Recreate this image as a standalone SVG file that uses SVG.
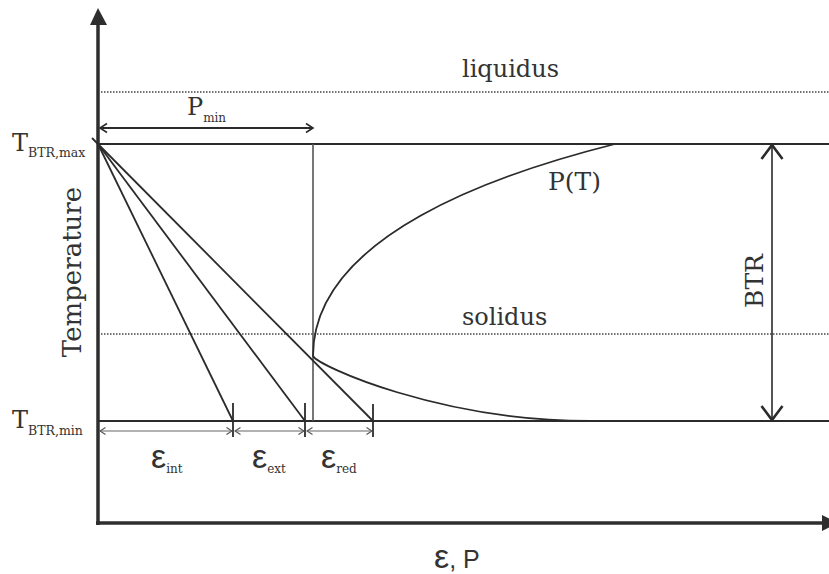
<svg xmlns="http://www.w3.org/2000/svg" width="829" height="574" viewBox="0 0 829 574">
<style>
.serif{font-family:"DejaVu Serif","Liberation Serif",serif;fill:#333}
.sans{font-family:"Liberation Sans",Arial,sans-serif;fill:#333}
.ln{stroke:#2b2b2b;stroke-width:1.8;fill:none}
.dot{stroke:#444;stroke-width:1.5;stroke-dasharray:1.5 1.5;fill:none}
.dim{stroke:#666;stroke-width:1.2;fill:none}
.axis{stroke:#2e2e2e;stroke-width:3.5;fill:none}
</style>
<defs>
<marker id="dimArr" markerUnits="userSpaceOnUse" markerWidth="10" markerHeight="10" refX="9" refY="5" orient="auto-start-reverse">
<path d="M3.5,1.5 L9,5 L3.5,8.5" fill="none" stroke="#555" stroke-width="1.2"/>
</marker>
<marker id="pArr" markerUnits="userSpaceOnUse" markerWidth="12" markerHeight="12" refX="10" refY="6" orient="auto-start-reverse">
<path d="M3,1.5 L10,6 L3,10.5" fill="none" stroke="#2b2b2b" stroke-width="1.6"/>
</marker>
<marker id="bArr" markerUnits="userSpaceOnUse" markerWidth="24" markerHeight="24" refX="20" refY="12" orient="auto-start-reverse">
<path d="M6,1.5 L20,12 L6,22.5" fill="none" stroke="#2b2b2b" stroke-width="2.6"/>
</marker>
</defs>
<rect width="829" height="574" fill="#fff"/>

<g id="axes">
<line class="axis" x1="98" y1="525" x2="98" y2="22"/>
<polygon points="98,8 90,25 107,25" fill="#2e2e2e"/>
<line class="axis" x1="96" y1="523" x2="824" y2="523"/>
<polygon points="822,515 838,523 822,531" fill="#2e2e2e"/>
<text class="serif" font-size="26" text-anchor="middle" transform="translate(81,272) rotate(-90)">Temperature</text>
<text class="sans" x="434" y="568"><tspan font-size="34">ε</tspan><tspan font-size="25">, P</tspan></text>
</g>

<g id="liquidus">
<line class="dot" x1="101" y1="92" x2="829" y2="92"/>
<text class="serif" font-size="24" x="462" y="77">liquidus</text>
</g>

<g id="solidus">
<line class="dot" x1="101" y1="334" x2="829" y2="334"/>
<text class="serif" font-size="24" x="462" y="325">solidus</text>
</g>

<g id="tmax">
<line class="ln" x1="98" y1="144" x2="829" y2="144"/>
<text class="serif" x="12" y="151"><tspan font-size="24">T</tspan><tspan font-size="12.5" dy="6">BTR,max</tspan></text>
</g>

<g id="tmin">
<line class="ln" x1="98" y1="421" x2="829" y2="421"/>
<text class="serif" x="12" y="428"><tspan font-size="24">T</tspan><tspan font-size="12.5" dy="7">BTR,min</tspan></text>
</g>

<g id="pmin">
<line x1="313" y1="144" x2="313" y2="421" stroke="#555" stroke-width="1.6"/>
<text class="serif" x="187" y="115"><tspan font-size="24">P</tspan><tspan font-size="12" dy="7">min</tspan></text>
</g>

<g id="curve">
<path class="ln" d="M615,144 C500,173 313,235 313,356 C318,366 440,421 590,421"/>
<text class="serif" font-size="25" x="548" y="190">P(T)</text>
</g>

<g id="btr">
<text class="serif" font-size="25" text-anchor="middle" transform="translate(763,281) rotate(-90)">BTR</text>
</g>

<g id="strain-labels">
<text class="sans" x="151" y="468"><tspan font-size="34">ε</tspan><tspan class="serif" font-size="12" dy="5">int</tspan></text>
<text class="sans" x="252" y="468"><tspan font-size="34">ε</tspan><tspan class="serif" font-size="12" dy="5">ext</tspan></text>
<text class="sans" x="321" y="468"><tspan font-size="34">ε</tspan><tspan class="serif" font-size="12" dy="5">red</tspan></text>
</g>

<g id="connectors">
<line class="ln" x1="98" y1="144" x2="233" y2="421"/>
<line class="ln" x1="98" y1="144" x2="305" y2="421"/>
<line class="ln" x1="92" y1="138" x2="373" y2="421"/>
<line class="ln" x1="233" y1="403" x2="233" y2="437"/>
<line class="ln" x1="305" y1="403" x2="305" y2="437"/>
<line class="ln" x1="373" y1="404" x2="373" y2="437"/>
<line class="dim" x1="100" y1="431" x2="232" y2="431" marker-start="url(#dimArr)" marker-end="url(#dimArr)"/>
<line class="dim" x1="235" y1="431" x2="304" y2="431" marker-start="url(#dimArr)" marker-end="url(#dimArr)"/>
<line class="dim" x1="307" y1="431" x2="372" y2="431" marker-start="url(#dimArr)" marker-end="url(#dimArr)"/>
<line x1="100" y1="128" x2="313" y2="128" stroke="#2b2b2b" stroke-width="1.8" marker-start="url(#pArr)" marker-end="url(#pArr)"/>
<line x1="772" y1="145" x2="772" y2="420" stroke="#2b2b2b" stroke-width="1.6" marker-start="url(#bArr)" marker-end="url(#bArr)"/>
</g>
</svg>
